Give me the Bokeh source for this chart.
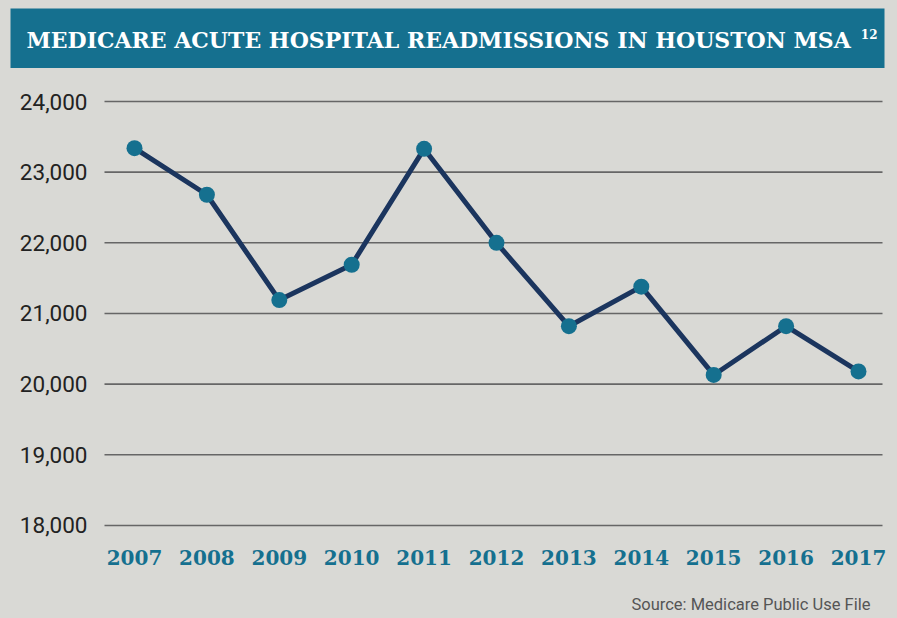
from bokeh.plotting import figure
from bokeh.models import Range1d
from bokeh.core.properties import value
from bokeh.embed import file_html
from bokeh.resources import INLINE

years = [2007, 2008, 2009, 2010, 2011, 2012, 2013, 2014, 2015, 2016, 2017]
readmissions = [23340, 22680, 21190, 21690, 23330, 22000, 20820, 21380, 20130, 20820, 20180]
y_ticks = [18000, 19000, 20000, 21000, 22000, 23000, 24000]
y_tick_labels = ["18,000", "19,000", "20,000", "21,000", "22,000", "23,000", "24,000"]
x_tick_labels = ["2007", "2008", "2009", "2010", "2011", "2012", "2013", "2014", "2015", "2016", "2017"]
title_text = "MEDICARE ACUTE HOSPITAL READMISSIONS IN HOUSTON MSA"
title_sup = "12"
source_text = "Source: Medicare Public Use File"

BG = "#D9D9D5"
TEAL = "#15708F"
NAVY = "#1B355E"
W, H = 897, 618

# pixel layout -> data coordinates (the frame covers the whole canvas)
X0, DX = 134.0, 72.4          # px of first year, px per year
Y0, DY = 101.0, 70.66         # px of 24,000, px per 1,000
def xd(px):
    return years[0] + (px - X0) / DX
def yd(py):
    return y_ticks[-1] - (py - Y0) / DY * 1000.0

p = figure(width=W, height=H, output_backend="svg", toolbar_location=None,
           x_range=Range1d(xd(0), xd(W)), y_range=Range1d(yd(H), yd(0)),
           min_border=0, outline_line_color=None,
           background_fill_color=BG, border_fill_color=BG)
p.axis.visible = False
p.grid.visible = False

# banner
p.quad(left=[xd(10)], right=[xd(884)], top=[yd(8)], bottom=[yd(67.5)],
       fill_color=TEAL, line_color=None)
p.text(x=[xd(26)], y=[yd(39)], text=[title_text], text_color="white",
       text_font=value("DejaVu Serif"), text_font_style="bold",
       text_font_size="22px", text_baseline="middle", text_align="left")
p.text(x=[xd(877)], y=[yd(33)], text=[title_sup], text_color="white",
       text_font=value("DejaVu Serif"), text_font_style="bold",
       text_font_size="12px", text_baseline="middle", text_align="right")

# horizontal grid lines at the y ticks
p.segment(x0=[xd(104)] * len(y_ticks), x1=[xd(882)] * len(y_ticks),
          y0=y_ticks, y1=y_ticks, line_color="#666666", line_width=1.6)

# y tick labels
p.text(x=[xd(87)] * len(y_ticks), y=y_ticks, text=y_tick_labels,
       text_font=value("Roboto"), text_font_size="22.5px", text_color="#222222",
       text_align="right", text_baseline="middle")

# x tick labels
p.text(x=years, y=[yd(557)] * len(years), text=x_tick_labels,
       text_font=value("DejaVu Serif"), text_font_style="bold", text_font_size="20px",
       text_color=TEAL, text_align="center", text_baseline="middle")

# data
p.line(years, readmissions, line_color=NAVY, line_width=5)
p.scatter(years, readmissions, size=16, fill_color=TEAL, line_color=None)

# source
p.text(x=[xd(870)], y=[yd(604)], text=[source_text], text_color="#555555",
       text_font=value("Roboto"), text_font_size="16.5px",
       text_align="right", text_baseline="middle")

html = file_html(p, INLINE)
html = html.replace("</head>", "<style>body{background:%s;}</style></head>" % BG)
open("out.html", "w").write(html)
